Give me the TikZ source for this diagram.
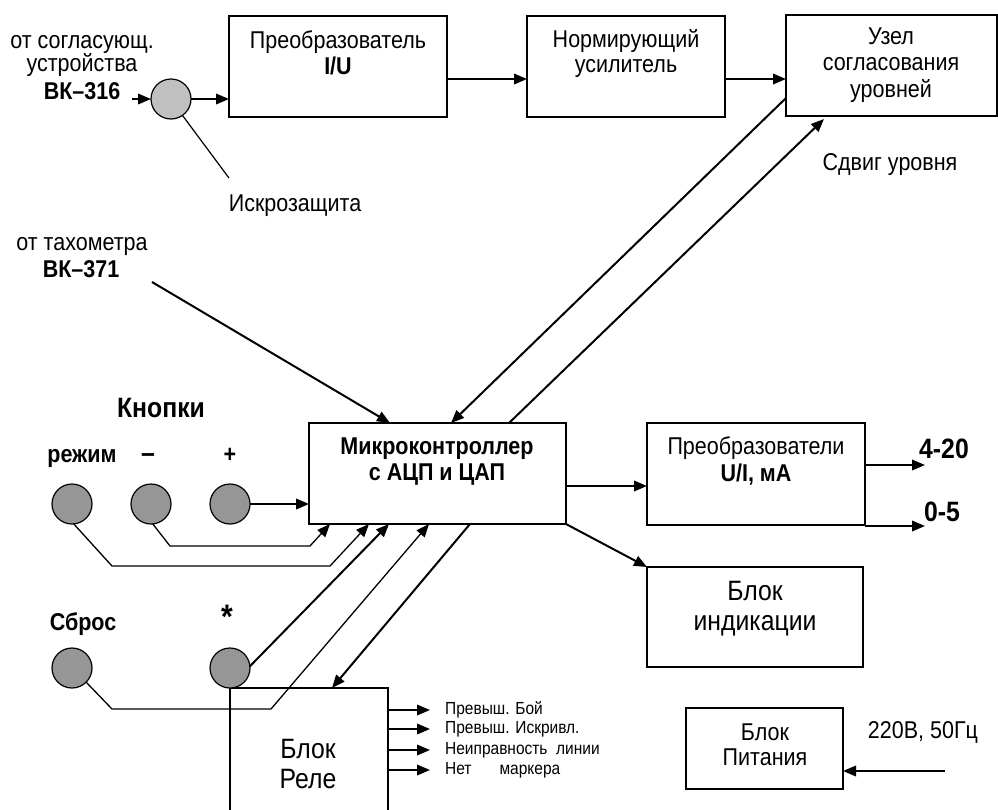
\documentclass[tikz,border=0pt]{standalone}
\usepackage{fontspec}
\setmainfont[FakeStretch=0.885]{Liberation Sans}
\usetikzlibrary{arrows.meta,calc}
\definecolor{btngray}{RGB}{150,150,150}
\definecolor{iskgray}{RGB}{192,192,192}
\begin{document}
\begin{tikzpicture}[x=1pt,y=-1pt,
  box/.style={draw, line width=1.3pt, inner sep=0pt, outer sep=0pt},
  arr/.style={line width=2pt, -{Triangle[length=13pt,width=10.5pt]}},
  thinarr/.style={line width=1.3pt, -{Triangle[length=13pt,width=10.5pt]}},
  thinline/.style={line width=1.2pt},
  circ/.style={circle, draw, line width=1.2pt, minimum size=40pt, inner sep=0pt, outer sep=0pt, fill=btngray},
  t/.style={inner sep=0pt, anchor=base, font=\fontsize{24.3}{27}\selectfont},
  tb/.style={t, font=\fontsize{24.3}{27}\selectfont\bfseries},
  tbig/.style={t, font=\fontsize{28}{31}\selectfont\bfseries},
  tl/.style={t, font=\fontsize{28}{31}\selectfont},
  ts/.style={inner sep=0pt, anchor=west, font=\fontsize{17.5}{20}\selectfont}
]
\useasboundingbox (0,0) rectangle (998,809);
\clip (0,0) rectangle (998,809);

% boxes
\node[box, minimum width=218pt, minimum height=101pt] (iu) at (338,66.5) {};
\node[box, minimum width=198pt, minimum height=101pt] (norm) at (626,66.5) {};
\node[box, minimum width=211pt, minimum height=101pt] (uzel) at (891.5,65.5) {};
\node[box, minimum width=257pt, minimum height=101pt] (mk) at (437.5,473.5) {};
\node[box, minimum width=218pt, minimum height=102pt] (ui) at (756,474) {};
\node[box, minimum width=216pt, minimum height=100pt] (ind) at (755,617) {};
\node[box, minimum width=157pt, minimum height=81pt] (pit) at (764.5,748.5) {};
\node[box, minimum width=158pt, minimum height=152pt] (rele) at (309,764) {};

% circles
\node[circ, fill=iskgray] (isk) at (171,99) {};
\node[circ] (bmode) at (72,504) {};
\node[circ] (bminus) at (151,504) {};
\node[circ] (bplus) at (230,504) {};
\node[circ] (breset) at (72,668) {};
\node[circ] (bstar) at (230,668) {};

% free texts
\node[t] (l316a) at (82,48) {от согласующ.};
\node[t] (l316b) at (82,71) {устройства};
\node[tb] (l316c) at (82,99) {ВК–316};
\node[t] (liskr) at (295,211) {Искрозащита};
\node[t] (ltah1) at (82,250) {от тахометра};
\node[tb] (ltah2) at (81,277) {ВК–371};
\node[tbig] (lknop) at (161,417) {Кнопки};
\node[tb] (lmode) at (82,462) {режим};
\node[tbig] (lminus) at (148,462) {–};
\node[tb] (lplus) at (230,462) {+};
\node[tb] (lreset) at (83,630) {Сброс};
\node[t, font=\fontsize{34}{36}\selectfont\bfseries] (lstar) at (227,628) {*};
\node[t] (lsdv) at (890,170) {Сдвиг уровня};
\node[tbig] (l420) at (944,458) {4-20};
\node[tbig] (l05) at (942,521) {0-5};
\node[t] (l220) at (923,738) {220В, 50Гц};

% box texts
\node[t] (tiu1) at (338,48) {Преобразователь};
\node[tb] (tiu2) at (338,74) {I/U};
\node[t] (tn1) at (626,47) {Нормирующий};
\node[t] (tn2) at (626,72) {усилитель};
\node[t] (tu1) at (891,44) {Узел};
\node[t] (tu2) at (891,70) {согласования};
\node[t] (tu3) at (891,97) {уровней};
\node[tb] (tmk1) at (437,454) {Микроконтроллер};
\node[tb] (tmk2) at (437,480) {с АЦП и ЦАП};
\node[t] (tui1) at (756,454) {Преобразователи};
\node[tb] (tui2) at (756,481) {U/I, мА};
\node[tl] (tind1) at (755,600) {Блок};
\node[tl] (tind2) at (755,630) {индикации};
\node[tl] (trele1) at (308,758) {Блок};
\node[tl] (trele2) at (308,788) {Реле};
\node[t] (tpit1) at (765,740) {Блок};
\node[t] (tpit2) at (765,765) {Питания};

% relay output labels
\node[ts] (r1) at (445,710) {Превыш. Бой};
\node[ts] (r2) at (445,729) {Превыш. Искривл.};
\node[ts] (r3) at (445,750) {Неиправность\ \ линии};
\node[ts] (r4) at (445,770) {Нет\hspace{28pt}маркера};

% connectors
\coordinate (in316) at (132,99);
\draw[arr] (in316) -- (isk.west);
\draw[arr] (isk.east) -- (isk.east -| iu.west);
\coordinate (iskend) at (229,178);
\draw[thinline] (isk.-55) -- (iskend);
\draw[arr] ([yshift=-12.5pt]iu.east) -- ([yshift=-12.5pt]iu.east -| norm.west);
\draw[arr] ([yshift=-12.5pt]norm.east) -- ([yshift=-12.5pt]norm.east -| uzel.west);
\coordinate (tahstart) at (152,282);
\draw[arr] (tahstart) -- ([xshift=81pt]mk.north west);
\draw[arr] ([yshift=-32.5pt]uzel.west) -- ([xshift=142pt]mk.north west);
\draw[arr] ([xshift=200pt]mk.north west) -- ([xshift=38pt,yshift=-3pt]uzel.south west);

\draw[arr] (bplus.east) -- (bplus.east -| mk.west);
\draw[thinarr] (bminus.-85) -- (170,546) -- (310,546) -- ([xshift=21pt]mk.south west);
\draw[thinarr] (bmode.-85) -- (112,566) -- (330,566) -- ([xshift=60pt]mk.south west);
\draw[arr] (bstar.5) -- ([xshift=80pt]mk.south west);
\draw[thinarr] (breset.-45) -- (112,709) -- (271,709) -- ([xshift=120pt]mk.south west);
\draw[arr] ([xshift=161pt]mk.south west) -- ([xshift=102pt]rele.north west);

\draw[arr] ([yshift=-12.5pt]mk.east) -- ([yshift=-12.5pt]mk.east -| ui.west);
\draw[arr] (mk.south east) -- (ind.north west);

\coordinate (o420) at (925,465);
\coordinate (o05) at (925,526);
\draw[arr] (o420 -| ui.east) -- (o420);
\draw[arr] (o05 -| ui.east) -- (o05);

\coordinate (pin) at (945,771);
\draw[arr] (pin) -- (pin -| pit.east);

\draw[arr] (r1.west -| rele.east) -- ([xshift=-15pt]r1.west);
\draw[arr] (r2.west -| rele.east) -- ([xshift=-15pt]r2.west);
\draw[arr] (r3.west -| rele.east) -- ([xshift=-15pt]r3.west);
\draw[arr] (r4.west -| rele.east) -- ([xshift=-15pt]r4.west);
\end{tikzpicture}
\end{document}
